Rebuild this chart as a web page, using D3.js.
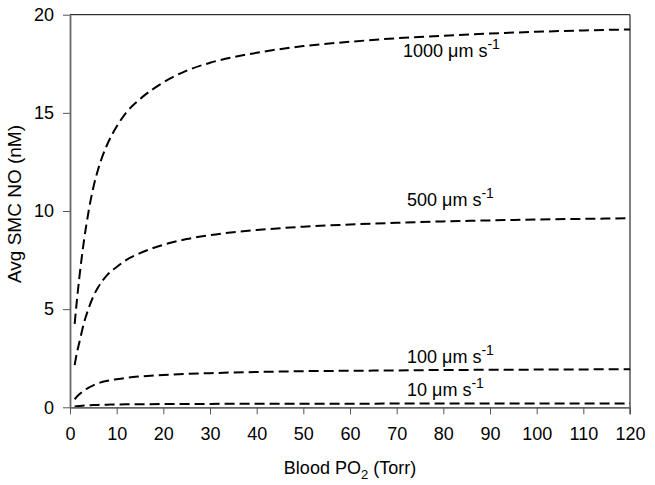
<!DOCTYPE html>
<html><head><meta charset="utf-8">
<script src="https://cdn.jsdelivr.net/npm/d3@7"></script>
<style>body{margin:0;background:#fff}svg{display:block}text{font-family:"Liberation Sans",Arial,sans-serif;fill:#000}</style>
</head><body><svg id="c" width="655" height="485"></svg>
<script>
const po2 = [1,1.5,2,3,4,5,6,8,10,12,15,20,25,30,40,50,60,70,80,90,100,110,120];
const no1000 = [4.25,5.5,6.6,8.5,10.0,11.2,12.1,13.4,14.3,15.0,15.7,16.55,17.15,17.55,18.06,18.4,18.62,18.8,18.93,19.04,19.13,19.2,19.25];
const no500  = [2.15,2.8,3.3,4.3,5.05,5.65,6.1,6.75,7.15,7.5,7.85,8.28,8.57,8.77,9.03,9.2,9.31,9.4,9.47,9.52,9.57,9.6,9.63];
const no100  = [0.41,0.55,0.66,0.86,1.0,1.12,1.22,1.35,1.43,1.5,1.57,1.65,1.7,1.74,1.8,1.84,1.86,1.88,1.9,1.91,1.92,1.93,1.94];
const no10   = [0.04,0.055,0.066,0.086,0.1,0.112,0.122,0.135,0.143,0.15,0.157,0.165,0.17,0.174,0.18,0.184,0.186,0.188,0.19,0.191,0.192,0.193,0.194];
const seriesNames = ["1000","500","100","10"];
const seriesValues = [no1000,no500,no100,no10];
const xTicks = d3.range(0,121,10);
const yTicks = [0,5,10,15,20];

const svg = d3.select("#c");
const L=70, R=630, T=14.7, B=407.3;
const x = d3.scaleLinear().domain([0,120]).range([L,R]);
const y = d3.scaleLinear().domain([0,20]).range([B,T]);

// frame top/right
svg.append("line").attr("x1",L).attr("x2",R).attr("y1",T).attr("y2",T).attr("stroke","#000").attr("stroke-width",1);
svg.append("line").attr("x1",R).attr("x2",R).attr("y1",T).attr("y2",B+7).attr("stroke","#000").attr("stroke-width",1);

const line = d3.line().x(d=>x(d[0])).y(d=>y(d[1])).curve(d3.curveMonotoneX);
seriesValues.forEach((vals,i)=>{
  svg.append("path").datum(po2.map((p,j)=>[p,vals[j]]))
    .attr("d",line).attr("fill","none").attr("stroke","#000")
    .attr("stroke-width",2).attr("stroke-dasharray","10,5");
});

// axes
const gx = svg.append("g").attr("transform",`translate(0,${B})`)
  .call(d3.axisBottom(x).tickValues(xTicks).tickSize(7).tickSizeOuter(0).tickPadding(13));
const gy = svg.append("g").attr("transform",`translate(${L},0)`)
  .call(d3.axisLeft(y).tickValues(yTicks).tickSize(7).tickSizeOuter(0).tickPadding(9));
[gx,gy].forEach(g=>{
  g.select(".domain").attr("stroke","#666").attr("stroke-width",1.8);
  g.selectAll(".tick line").attr("stroke","#555").attr("stroke-width",1);
  g.selectAll(".tick text").attr("font-size",18).attr("font-family","Liberation Sans, Arial, sans-serif").attr("fill","#000");
});

// series labels
const lbl = [[403,57],[407,206],[407,363],[407,396]];
seriesNames.forEach((n,i)=>{
  const t = svg.append("text").attr("x",lbl[i][0]).attr("y",lbl[i][1]).attr("font-size",18);
  t.append("tspan").text(n+" ");
  t.append("tspan").text("μ");
  t.append("tspan").text("m s");
  t.append("tspan").attr("dy",-8).attr("font-size",14).text("-1");
});

// axis titles
const xt = svg.append("text").attr("x",350).attr("y",474).attr("text-anchor","middle").attr("font-size",18);
xt.append("tspan").text("Blood PO");
xt.append("tspan").attr("dy",5).attr("font-size",13).text("2");
xt.append("tspan").attr("dy",-5).text(" (Torr)");
svg.append("text").attr("transform","translate(21,204) rotate(-90)").attr("text-anchor","middle").attr("font-size",19).text("Avg SMC NO (nM)");
</script></body></html>
